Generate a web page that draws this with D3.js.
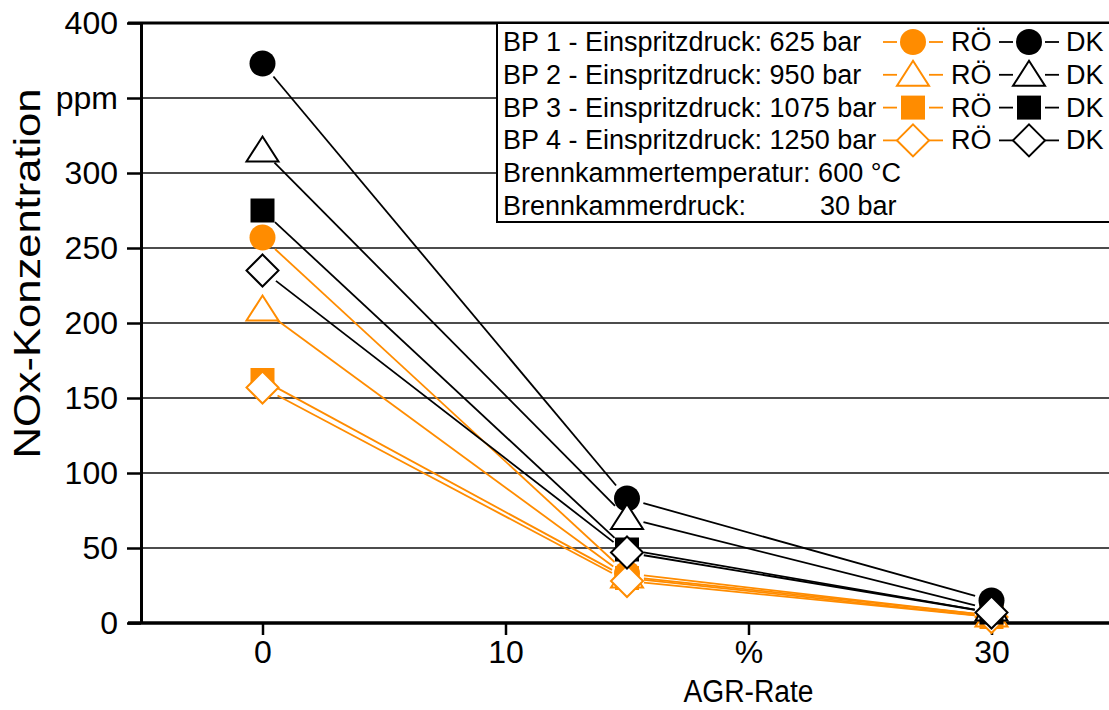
<!DOCTYPE html>
<html>
<head>
<meta charset="utf-8">
<script src="https://cdn.jsdelivr.net/npm/d3@7"></script>
<style>
  html, body { margin: 0; padding: 0; background: #fff; }
  svg { display: block; font-family: Arial, "Liberation Sans", sans-serif; }
</style>
</head>
<body>
<svg id="chart" width="1109" height="710"></svg>
<script>
// AGR-Rate (%) at the measured operating points
const agrRate = [0, 15, 30];

// NOx concentration (ppm), RÖ fuel
const roBP1 = [257, 33, 5];
const roBP2 = [209, 31, 5];
const roBP3 = [162, 30, 4];
const roBP4 = [157, 28, 4];

// NOx concentration (ppm), DK fuel
const dkBP1 = [373, 83, 15];
const dkBP2 = [315, 70, 9];
const dkBP3 = [275, 49, 7];
const dkBP4 = [235, 47, 7];

// Axis ticks and their labels
const xTickValues = [0, 10, 20, 30];
const xTickLabels = ["0", "10", "%", "30"];
const yTickValues = [0, 50, 100, 150, 200, 250, 300, 350, 400];
const yTickLabels = ["0", "50", "100", "150", "200", "250", "300", "ppm", "400"];

// Legend rows
const legendRows = [
  "BP 1 - Einspritzdruck: 625 bar",
  "BP 2 - Einspritzdruck: 950 bar",
  "BP 3 - Einspritzdruck: 1075 bar",
  "BP 4 - Einspritzdruck: 1250 bar",
  "Brennkammertemperatur: 600 °C",
  "Brennkammerdruck:"
];
const shapes = ["circle", "triangle", "square", "diamond"];

const ORANGE = "#ff8c00";
const BLACK = "#000";

const series = [
  { values: roBP1, shape: "circle",   color: ORANGE, filled: true },
  { values: roBP2, shape: "triangle", color: ORANGE, filled: false },
  { values: roBP3, shape: "square",   color: ORANGE, filled: true },
  { values: roBP4, shape: "diamond",  color: ORANGE, filled: false },
  { values: dkBP1, shape: "circle",   color: BLACK,  filled: true },
  { values: dkBP2, shape: "triangle", color: BLACK,  filled: false },
  { values: dkBP3, shape: "square",   color: BLACK,  filled: true },
  { values: dkBP4, shape: "diamond",  color: BLACK,  filled: false }
];

const svg = d3.select("#chart");
const W = 1109;
const FONT = "Arial, 'Liberation Sans', sans-serif";

const x = d3.scaleLinear().domain([-5, 35]).range([141, 1113]);
const y = d3.scaleLinear().domain([0, 400]).range([623, 23]);

// marker outlines centred on (0,0)
function markerPath(shape) {
  const p = d3.path();
  if (shape === "circle") {
    p.arc(0, 0, 13, 0, 2 * Math.PI);
  } else if (shape === "triangle") {
    p.moveTo(0, -14); p.lineTo(16, 11); p.lineTo(-16, 11); p.closePath();
  } else if (shape === "square") {
    p.rect(-12, -12, 24, 24);
  } else {
    p.moveTo(0, -16); p.lineTo(16, 0); p.lineTo(0, 16); p.lineTo(-16, 0); p.closePath();
  }
  return p.toString();
}

// horizontal grid lines
svg.append("g")
  .selectAll("line")
  .data(yTickValues.filter(v => v > 0 && v < 400))
  .join("line")
  .attr("x1", x(-5)).attr("x2", W)
  .attr("y1", d => y(d)).attr("y2", d => y(d))
  .attr("stroke", "#111").attr("stroke-width", 1.6);

// top frame line
svg.append("line")
  .attr("x1", 128).attr("x2", W)
  .attr("y1", y(400)).attr("y2", y(400))
  .attr("stroke", BLACK).attr("stroke-width", 3);

// y axis
const yAxis = d3.axisLeft(y)
  .tickValues(yTickValues)
  .tickFormat((d, i) => yTickLabels[i])
  .tickSize(14).tickSizeOuter(0).tickPadding(9);
const gy = svg.append("g").attr("transform", `translate(${x(-5)},0)`).call(yAxis);
gy.select(".domain").attr("stroke-width", 3);
gy.selectAll(".tick line").attr("stroke-width", 2.5);
gy.selectAll(".tick text").attr("font-size", 32).attr("fill", BLACK)
  .attr("font-family", FONT);

// x axis
const xAxis = d3.axisBottom(x)
  .tickValues(xTickValues)
  .tickFormat((d, i) => xTickLabels[i])
  .tickSize(12).tickSizeOuter(0).tickPadding(5);
const gx = svg.append("g").attr("transform", `translate(0,${y(0)})`).call(xAxis);
gx.select(".domain").attr("stroke-width", 3.5).attr("d", `M128,0H${W}`);
gx.selectAll(".tick line").attr("stroke-width", 2.5);
gx.selectAll(".tick text").attr("font-size", 32).attr("fill", BLACK)
  .attr("font-family", FONT);

// axis titles
svg.append("text")
  .attr("x", x(20)).attr("y", 702)
  .attr("text-anchor", "middle").attr("font-size", 31)
  .attr("textLength", 130).attr("lengthAdjust", "spacingAndGlyphs")
  .text("AGR-Rate");
svg.append("text")
  .attr("transform", `translate(40,${y(233)}) rotate(-90)`)
  .attr("text-anchor", "middle").attr("font-size", 36)
  .attr("textLength", 370).attr("lengthAdjust", "spacingAndGlyphs")
  .text("NOx-Konzentration");

// legend box (drawn before the data so markers sit on top)
const legendTop = y(400);
svg.append("rect")
  .attr("x", 497).attr("y", legendTop)
  .attr("width", W - 497 + 5).attr("height", 222 - legendTop)
  .attr("fill", "#fff").attr("stroke", BLACK).attr("stroke-width", 2);

// connecting lines, stopping short of each marker
const GAP = 17;
const plot = svg.append("g");
series.forEach(s => {
  const pts = agrRate.map((a, i) => [x(a), y(s.values[i])]);
  for (let i = 0; i < pts.length - 1; i++) {
    const [x1, y1] = pts[i], [x2, y2] = pts[i + 1];
    const len = Math.hypot(x2 - x1, y2 - y1);
    if (len <= 2 * GAP) continue;
    const ux = (x2 - x1) / len, uy = (y2 - y1) / len;
    plot.append("line")
      .attr("x1", x1 + ux * GAP).attr("y1", y1 + uy * GAP)
      .attr("x2", x2 - ux * GAP).attr("y2", y2 - uy * GAP)
      .attr("stroke", s.color).attr("stroke-width", 1.8);
  }
});

// markers
series.forEach(s => {
  plot.append("g")
    .selectAll("path")
    .data(agrRate.map((a, i) => ({ a, v: s.values[i] })))
    .join("path")
    .attr("transform", d => `translate(${x(d.a)},${y(d.v)})`)
    .attr("d", markerPath(s.shape))
    .attr("fill", s.filled ? s.color : "#fff")
    .attr("stroke", s.color)
    .attr("stroke-width", s.filled ? 0 : 2);
});

// legend contents
const legend = svg.append("g");
const rowY = i => 42 + i * 32.8;
legendRows.forEach((t, i) => {
  legend.append("text")
    .attr("x", 503).attr("y", rowY(i))
    .attr("dominant-baseline", "central")
    .attr("font-size", 27)
    .text(t);
});
legend.append("text")
  .attr("x", 820).attr("y", rowY(5))
  .attr("dominant-baseline", "central")
  .attr("font-size", 27)
  .text("30 bar");

function legendSample(cx, cy, shape, color, filled) {
  legend.append("line").attr("x1", cx - 30).attr("x2", cx - 16)
    .attr("y1", cy).attr("y2", cy).attr("stroke", color).attr("stroke-width", 1.8);
  legend.append("line").attr("x1", cx + 16).attr("x2", cx + 30)
    .attr("y1", cy).attr("y2", cy).attr("stroke", color).attr("stroke-width", 1.8);
  legend.append("path")
    .attr("transform", `translate(${cx},${cy})`)
    .attr("d", markerPath(shape))
    .attr("fill", filled ? color : "#fff")
    .attr("stroke", color).attr("stroke-width", filled ? 0 : 2);
}
shapes.forEach((sh, i) => {
  const filled = sh === "circle" || sh === "square";
  legendSample(913, rowY(i), sh, ORANGE, filled);
  legend.append("text").attr("x", 951).attr("y", rowY(i))
    .attr("dominant-baseline", "central").attr("font-size", 27).text("RÖ");
  legendSample(1029, rowY(i), sh, BLACK, filled);
  legend.append("text").attr("x", 1066).attr("y", rowY(i))
    .attr("dominant-baseline", "central").attr("font-size", 27).text("DK");
});
</script>
</body>
</html>
